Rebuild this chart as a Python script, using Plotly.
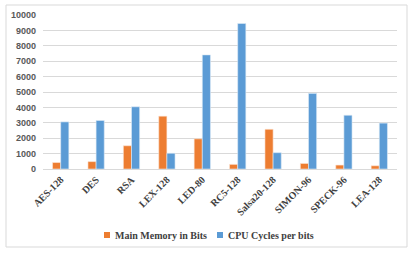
import plotly.graph_objects as go

categories = ["AES-128", "DES", "RSA", "LEX-128", "LED-80", "RC5-128",
              "Salsa20-128", "SIMON-96", "SPECK-96", "LEA-128"]
main_memory = [420, 480, 1510, 3430, 1960, 300, 2580, 360, 255, 210]
cpu_cycles = [3060, 3150, 4040, 1020, 7410, 9450, 1060, 4910, 3490, 2980]
y_ticks = [0, 1000, 2000, 3000, 4000, 5000, 6000, 7000, 8000, 9000, 10000]
series_names = ["Main Memory in Bits", "CPU Cycles per bits"]

ORANGE = "#ED7D31"
BLUE = "#5B9BD5"
W, H = 415, 256
L, R, T, B = 43, 18, 15, 87
PW, PH = W - L - R, H - T - B


def px(x):
    return (x - L) / PW


def py(y):
    return (H - B - y) / PH


fig = go.Figure()
fig.add_trace(go.Bar(x=categories, y=main_memory, name=series_names[0],
                     marker=dict(color=ORANGE, line=dict(color="#FBE5D6", width=0.6))))
fig.add_trace(go.Bar(x=categories, y=cpu_cycles, name=series_names[1],
                     marker=dict(color=BLUE, line=dict(color="#DEEBF7", width=0.6))))

legend_font = dict(family="Liberation Serif", size=10, color="#404040", weight="bold")
annotations = []
shapes = [dict(type="rect", xref="paper", yref="paper",
               x0=px(6), x1=px(407), y0=py(247), y1=py(5),
               line=dict(color="#D9D9D9", width=1), layer="below")]
for name, color, mx in [(series_names[0], ORANGE, 107), (series_names[1], BLUE, 220)]:
    shapes.append(dict(type="rect", xref="paper", yref="paper",
                       x0=px(mx - 3), x1=px(mx + 3), y0=py(238), y1=py(232),
                       fillcolor=color, line=dict(width=0)))
    annotations.append(dict(text=name, xref="paper", yref="paper", x=px(mx + 6), y=py(235),
                            xanchor="left", yanchor="middle", showarrow=False, font=legend_font))

fig.update_layout(
    width=W, height=H,
    margin=dict(l=L, r=R, t=T, b=B),
    paper_bgcolor="white", plot_bgcolor="white",
    barmode="group", bargap=0.54, bargroupgap=0,
    showlegend=False,
    xaxis=dict(tickangle=-45, tickfont=dict(family="Liberation Serif", size=10,
                                            color="#404040", weight="bold"),
               showline=True, linecolor="#D9D9D9", linewidth=1, ticks="",
               showgrid=False, fixedrange=True, automargin=False),
    yaxis=dict(range=[0, 10000], tickvals=y_ticks, ticktext=[str(v) for v in y_ticks],
               tickfont=dict(family="Liberation Sans", size=9, color="#595959", weight="bold"),
               showgrid=True, gridcolor="#D9D9D9", gridwidth=1, zeroline=False,
               showline=False, ticks="", ticklabelstandoff=6, fixedrange=True,
               automargin=False),
    shapes=shapes,
    annotations=annotations,
)

fig.write_html("out.html", config={"displayModeBar": False},
               post_script="document.body.style.margin='0';document.body.style.overflow='hidden';")
